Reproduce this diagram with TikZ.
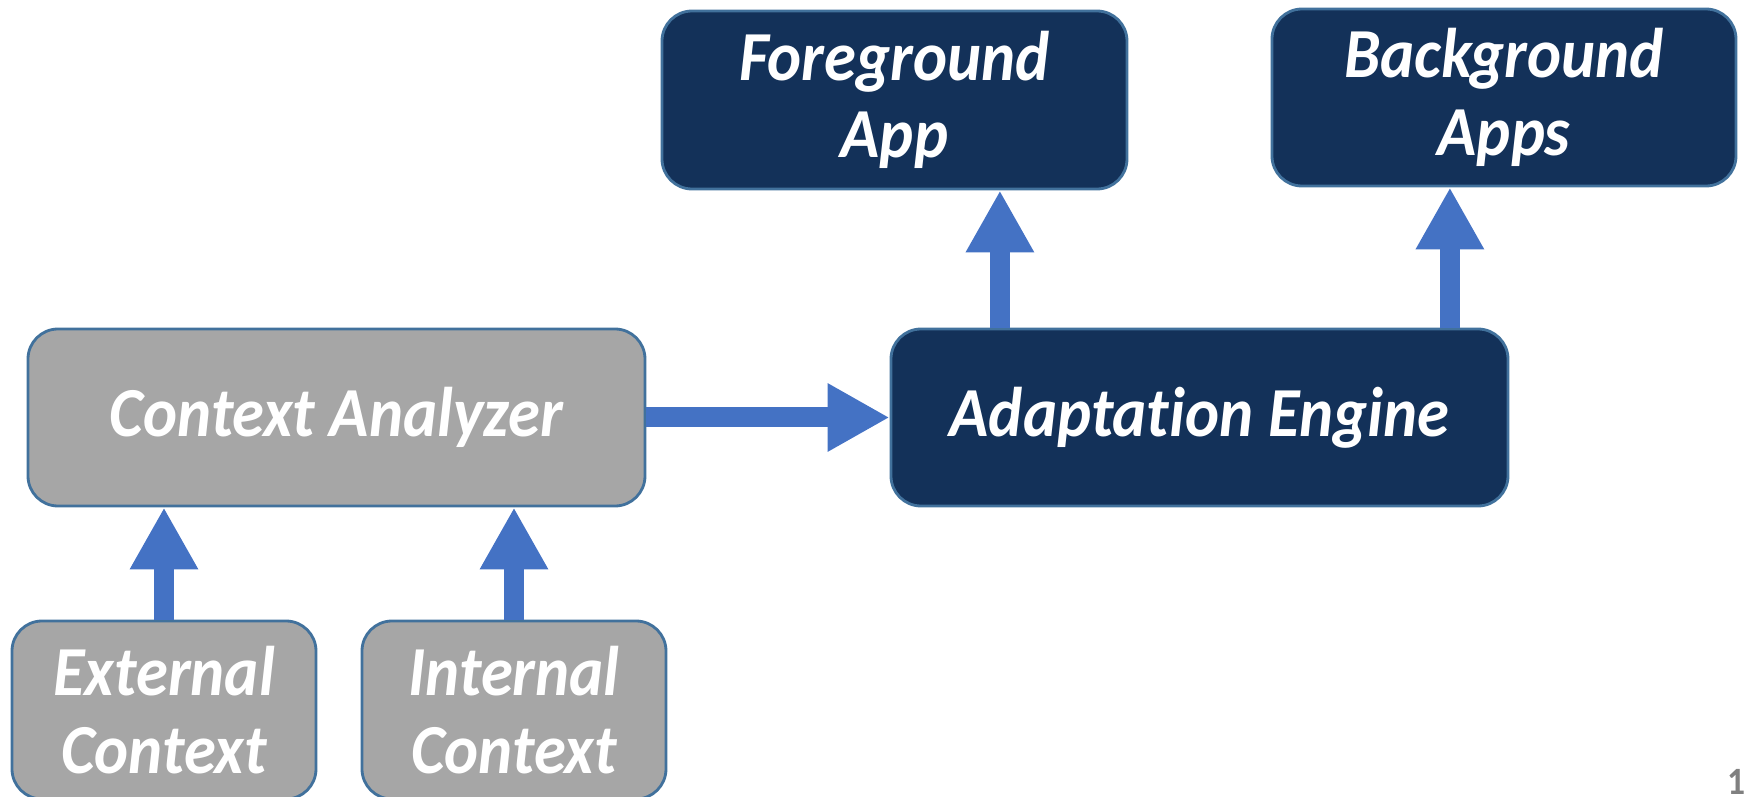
\documentclass[tikz,border=0pt]{standalone}
\usepackage{fontspec}
\setmainfont{Carlito}[Ligatures=NoCommon, FakeStretch=0.92]
\usetikzlibrary{arrows.meta,calc}
\definecolor{navybox}{RGB}{19,49,89}
\definecolor{greybox}{RGB}{166,166,166}
\definecolor{boxline}{RGB}{65,113,156}
\definecolor{arrowblue}{RGB}{68,114,196}
\begin{document}
\begin{tikzpicture}[
    box/.style={draw=boxline, line width=0.8pt, rounded corners=0.3cm, align=center,
        text=white, inner sep=0pt, font=\fontsize{20}{22}\selectfont\bfseries\itshape},
    navy/.style={box, fill=navybox},
    grey/.style={box, fill=greybox},
    bigarrow/.style={draw=arrowblue, line width=0.2cm, -{Triangle[length=0.62cm, width=0.64cm]}}
  ]
    \useasboundingbox (0,0) rectangle (17.45,7.96);
    % top row
    \node[navy, minimum width=4.65cm, minimum height=1.78cm] (fg) at (8.945,6.96) {Foreground\\App};
    \node[navy, minimum width=4.64cm, minimum height=1.77cm] (bg) at (15.04,6.985) {Background\\Apps};
    % middle row
    \node[grey, minimum width=6.17cm, minimum height=1.77cm] (ca) at (3.365,3.785) {Context Analyzer};
    \node[navy, minimum width=6.17cm, minimum height=1.77cm] (ae) at (11.995,3.785) {Adaptation Engine};
    % inputs
    \node[grey, minimum width=3.04cm, minimum height=1.78cm] (ext) at (1.64,0.86) {External\\Context};
    \node[grey, minimum width=3.04cm, minimum height=1.78cm] (int) at (5.14,0.86) {Internal\\Context};
    % arrows
    \draw[bigarrow] (ext.north) -- (ext.north |- ca.south);
    \draw[bigarrow] (int.north) -- (int.north |- ca.south);
    \draw[bigarrow] (ca.east) -- (ae.west);
    \draw[bigarrow] ($(ae.north west)!0.178!(ae.north east)$) coordinate (fgfoot) -- (fgfoot |- fg.south);
    \draw[bigarrow] ($(ae.north west)!0.904!(ae.north east)$) coordinate (bgfoot) -- (bgfoot |- bg.south);
    % page number
    \node[anchor=base west, text=gray, font=\fontsize{11}{13}\selectfont\bfseries, inner sep=0pt] (pg) at (17.27,0.02) {14};
\end{tikzpicture}
\end{document}
